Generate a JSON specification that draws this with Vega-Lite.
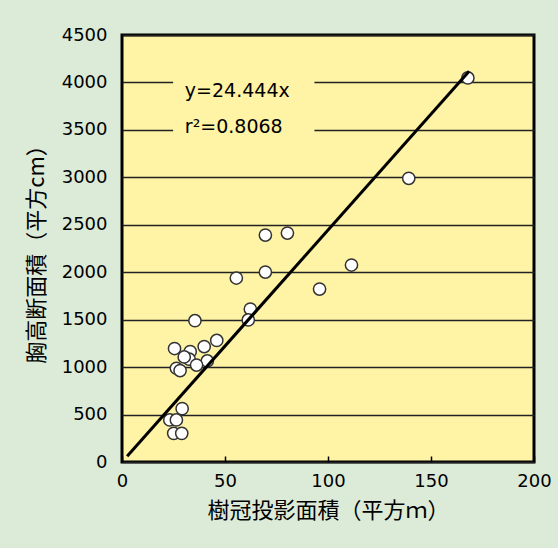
{
  "$schema": "https://vega.github.io/schema/vega-lite/v6.json",
  "autosize": {"type": "none"},
  "padding": {"left": 122, "top": 35, "right": 24, "bottom": 86},
  "width": 412,
  "height": 427,
  "background": "#DCEBD8",
  "config": {
    "view": {"fill": "#FFF3A6", "stroke": "#000000", "strokeWidth": 3},
    "axis": {"labelFont": "DejaVu Sans", "labelFontSize": 18, "labelColor": "#000000", "titleFont": "Noto Sans CJK JP", "titleFontSize": 22, "titleFontWeight": "normal", "titleColor": "#000000", "domain": false}
  },
  "datasets": {
    "points": [
      {"area": 167.9, "basal": 4047},
      {"area": 139.2, "basal": 2990},
      {"area": 111.4, "basal": 2076},
      {"area": 95.9, "basal": 1823},
      {"area": 80.3, "basal": 2413},
      {"area": 69.6, "basal": 2392},
      {"area": 69.6, "basal": 2002},
      {"area": 55.5, "basal": 1939},
      {"area": 62.3, "basal": 1612},
      {"area": 61.3, "basal": 1497},
      {"area": 35.4, "basal": 1489},
      {"area": 25.5, "basal": 1196},
      {"area": 46.0, "basal": 1281},
      {"area": 39.9, "basal": 1217},
      {"area": 33.1, "basal": 1163},
      {"area": 32.6, "basal": 1083},
      {"area": 41.4, "basal": 1065},
      {"area": 26.4, "basal": 988},
      {"area": 28.2, "basal": 964},
      {"area": 36.2, "basal": 1022},
      {"area": 30.2, "basal": 1107},
      {"area": 29.2, "basal": 562},
      {"area": 23.2, "basal": 443},
      {"area": 26.4, "basal": 443},
      {"area": 25.1, "basal": 302},
      {"area": 29.0, "basal": 302}
    ],
    "fit": [
      {"area": 2.5, "basal": 61},
      {"area": 168.5, "basal": 4119}
    ],
    "box": [
      {"x1": 24.8, "x2": 93.4, "y1": 3300, "y2": 4150}
    ],
    "labels": [
      {"area": 30.5, "basal": 3847, "text": "y=24.444x"},
      {"area": 30.5, "basal": 3468, "text": "r²=0.8068"}
    ]
  },
  "encoding": {
    "x": {
      "field": "area", "type": "quantitative",
      "scale": {"domain": [0, 200], "nice": false, "zero": false},
      "axis": {"title": "樹冠投影面積（平方ｍ）", "format": "d", "values": [0, 50, 100, 150, 200], "grid": false, "ticks": true, "tickSize": -6, "tickColor": "#000000", "tickWidth": 1.5, "labelPadding": 16, "titlePadding": 10, "labelFlush": false}
    },
    "y": {
      "field": "basal", "type": "quantitative",
      "scale": {"domain": [0, 4500], "nice": false, "zero": false},
      "axis": {"title": "胸高断面積（平方cm）", "format": "d", "values": [0, 500, 1000, 1500, 2000, 2500, 3000, 3500, 4000, 4500], "grid": true, "gridColor": "#222222", "gridWidth": 1.3, "gridOpacity": 1, "ticks": false, "labelPadding": 15, "titlePadding": 13, "labelFlush": false}
    }
  },
  "layer": [
    {
      "data": {"name": "box"},
      "mark": {"type": "rect", "fill": "#FFF3A6", "stroke": null},
      "encoding": {
        "x": {"field": "x1", "type": "quantitative"},
        "x2": {"field": "x2"},
        "y": {"field": "y1", "type": "quantitative"},
        "y2": {"field": "y2"}
      }
    },
    {
      "data": {"name": "labels"},
      "mark": {"type": "text", "align": "left", "baseline": "alphabetic", "font": "DejaVu Sans", "fontSize": 19, "color": "#000000"},
      "encoding": {"text": {"field": "text"}}
    },
    {
      "data": {"name": "points"},
      "mark": {"type": "point", "shape": "circle", "filled": true, "fill": "#FFFFFF", "stroke": "#333333", "strokeWidth": 1.5, "size": 150, "opacity": 1}
    },
    {
      "data": {"name": "fit"},
      "mark": {"type": "line", "color": "#000000", "strokeWidth": 3}
    }
  ]
}
